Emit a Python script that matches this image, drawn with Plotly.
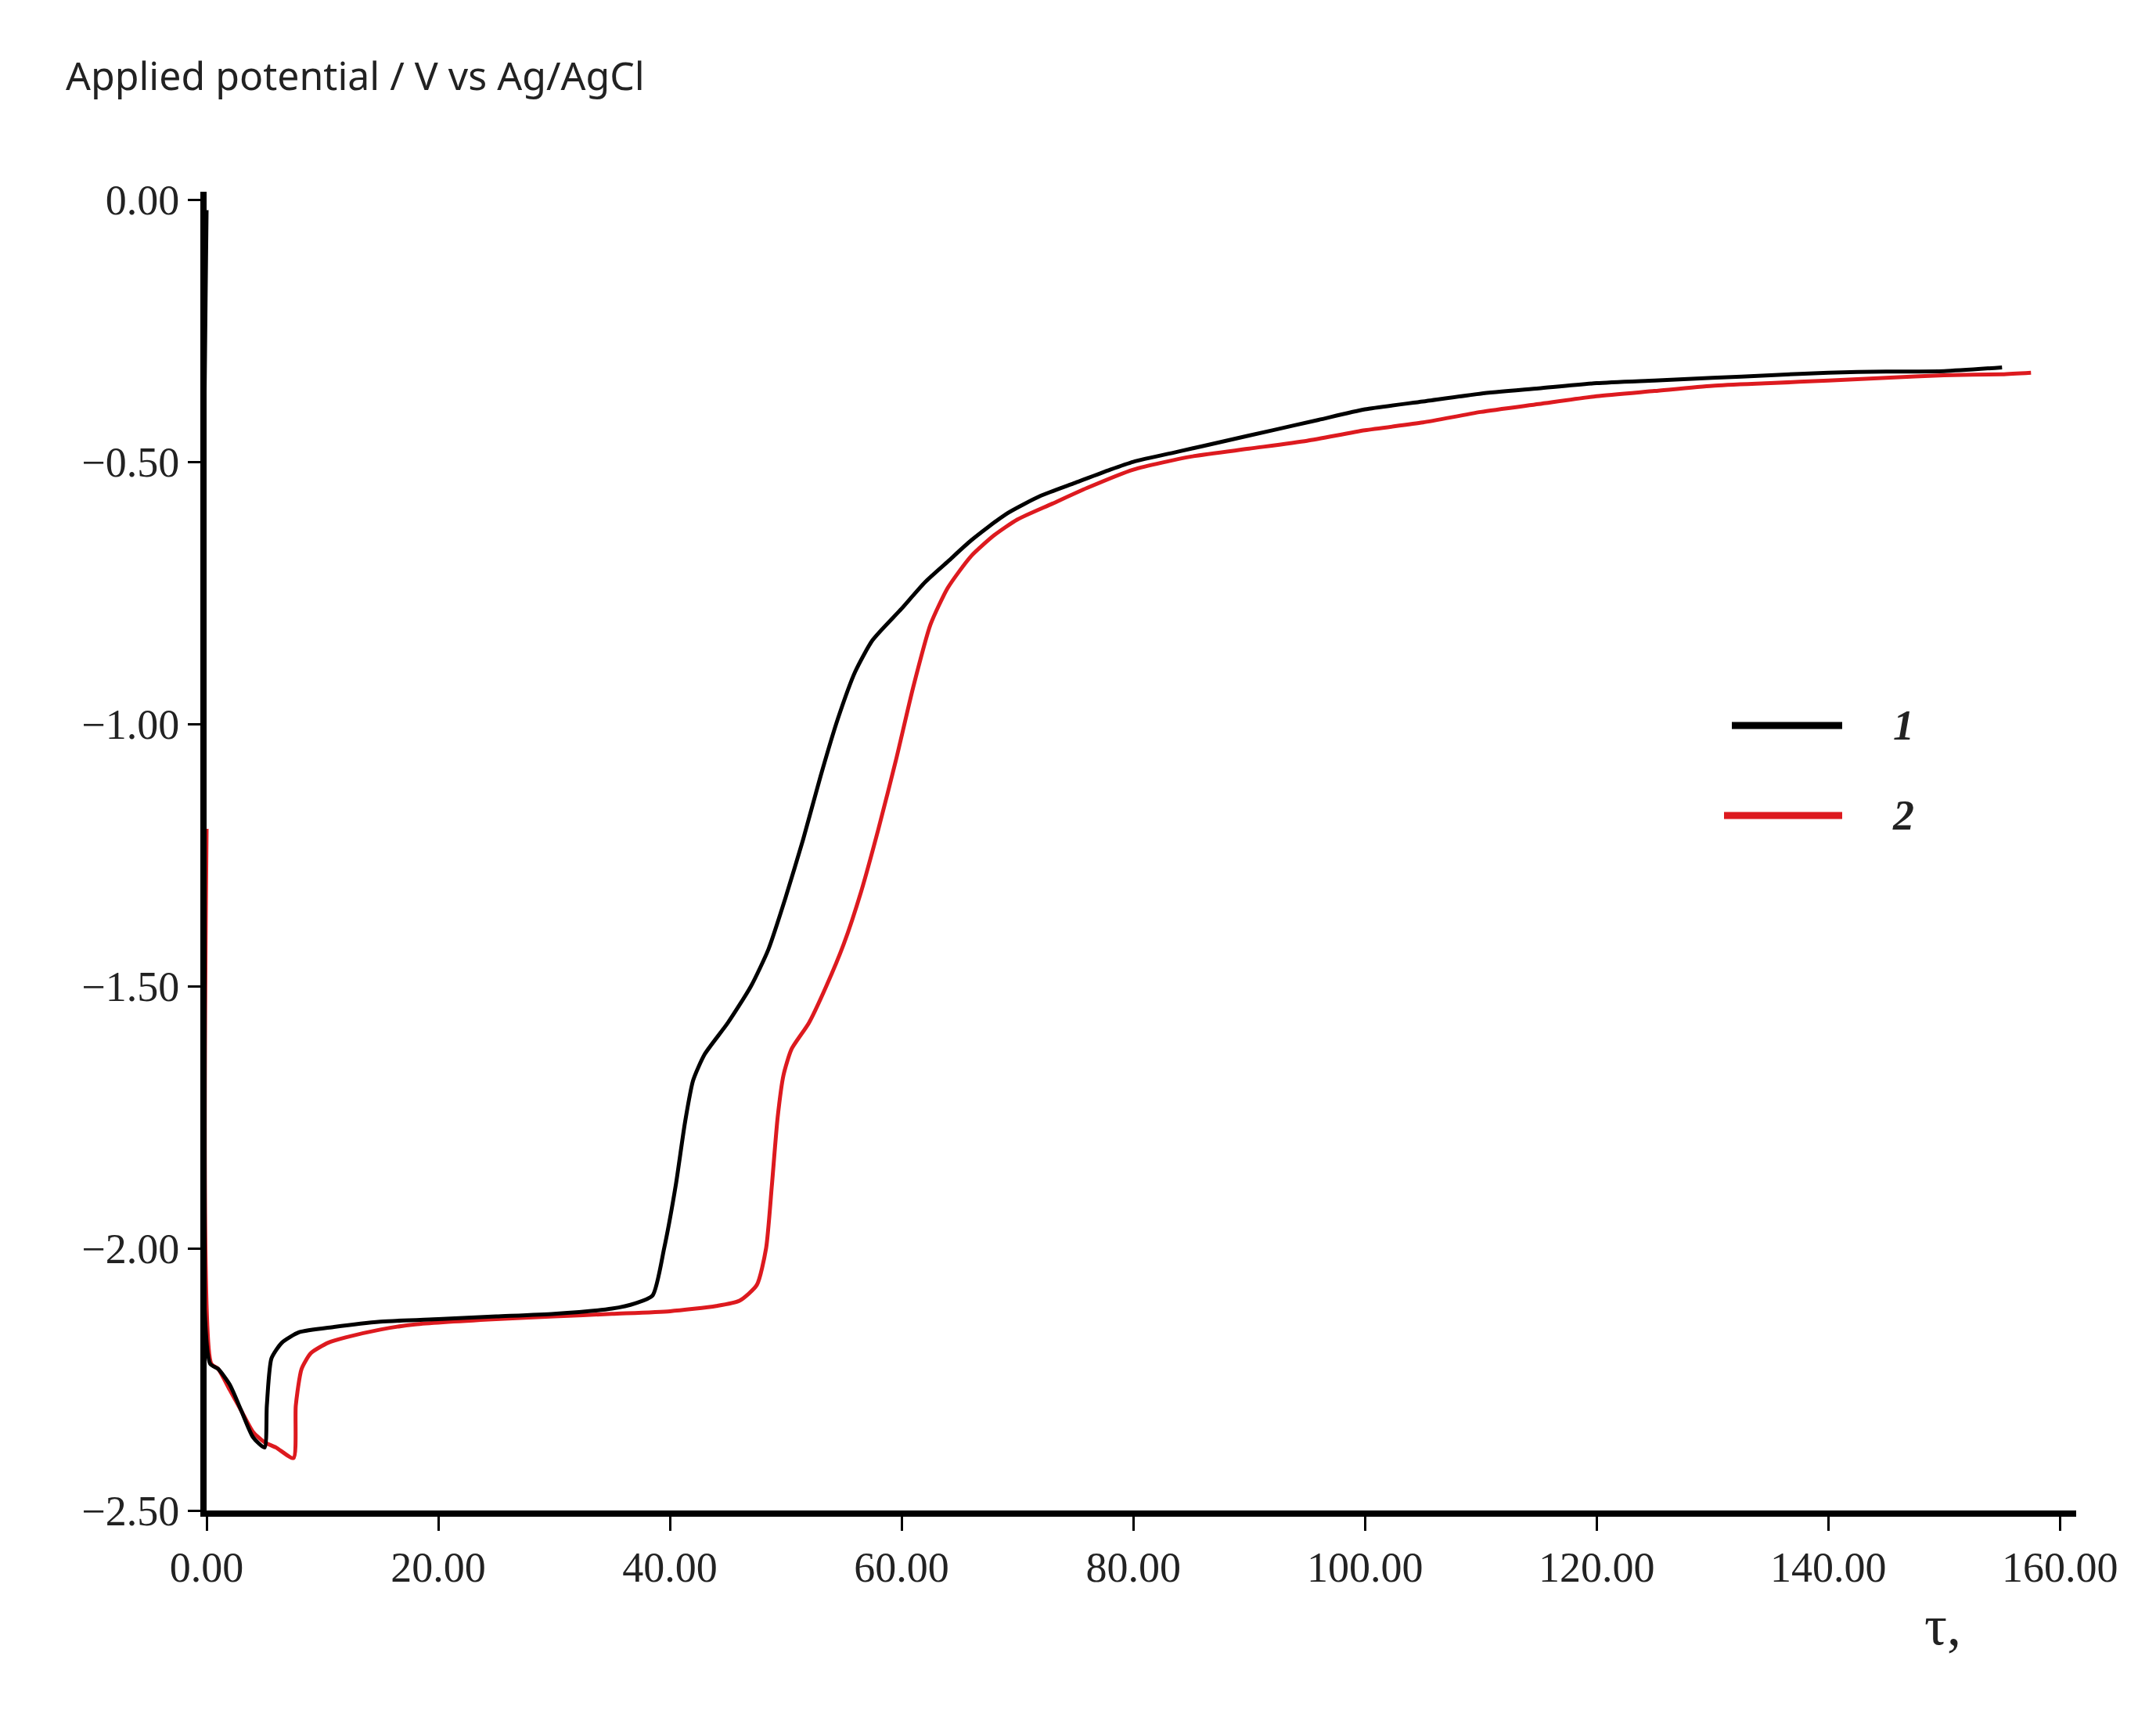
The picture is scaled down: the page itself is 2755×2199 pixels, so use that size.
import plotly.graph_objects as go

x1 = [0, 0.3, 1, 2, 3, 4, 5, 5.2, 5.6, 6.5, 8, 11, 15, 20, 25, 30, 35, 37, 38.5, 39.5, 40.5, 41.3, 42, 43, 45, 47, 48.5, 50, 51.5, 53, 54.5, 56, 57.5, 60, 62, 64, 66, 69, 72, 75, 78, 80, 84, 88, 92, 96, 100, 105, 110, 115, 120, 125, 130, 135, 140, 145, 150, 155]
y1 = [-0.02, -2.22, -2.23, -2.26, -2.31, -2.36, -2.38, -2.3, -2.21, -2.18, -2.16, -2.15, -2.14, -2.135, -2.13, -2.125, -2.115, -2.105, -2.09, -2.0, -1.88, -1.76, -1.68, -1.63, -1.57, -1.5, -1.43, -1.33, -1.22, -1.1, -0.99, -0.9, -0.84, -0.78, -0.73, -0.69, -0.65, -0.6, -0.565, -0.54, -0.515, -0.5, -0.48, -0.46, -0.44, -0.42, -0.4, -0.385, -0.37, -0.36, -0.35, -0.345, -0.34, -0.335, -0.33, -0.328, -0.327, -0.32]

x2 = [0, 0.4, 1, 2, 3, 4, 5, 6, 7.5, 7.7, 8.2, 9, 10.5, 12, 15, 18, 25, 30, 35, 40, 44, 46, 47.5, 48.3, 48.8, 49.3, 49.8, 50.5, 52, 53.5, 55, 56.5, 58, 59.5, 61, 62.5, 64, 66, 68, 70, 73, 76, 80, 85, 90, 95, 100, 105, 110, 115, 120, 125, 130, 135, 140, 145, 150, 155, 157.5]
y2 = [-1.2, -2.22, -2.23, -2.27, -2.31, -2.35, -2.37, -2.38, -2.4, -2.3, -2.23, -2.2, -2.18, -2.17, -2.155, -2.145, -2.135, -2.13, -2.125, -2.12, -2.11, -2.1, -2.07, -2.0, -1.88, -1.75, -1.67, -1.62, -1.57, -1.5, -1.42, -1.32, -1.2, -1.07, -0.93, -0.81, -0.74, -0.68, -0.64, -0.61, -0.58, -0.55, -0.515, -0.49, -0.475, -0.46, -0.44, -0.425, -0.405, -0.39, -0.375, -0.365, -0.355, -0.35, -0.345, -0.34, -0.335, -0.333, -0.33]

xticks = [0, 20, 40, 60, 80, 100, 120, 140, 160]
xlabels = ["0.00", "20.00", "40.00", "60.00", "80.00", "100.00", "120.00", "140.00", "160.00"]
yticks = [0, -0.5, -1.0, -1.5, -2.0, -2.5]
ylabels = ["0.00", "\u22120.50", "\u22121.00", "\u22121.50", "\u22122.00", "\u22122.50"]
legend_names = ["1", "2"]
colors = ["#000000", "#dd1a1f"]

fig = go.Figure()
fig.add_trace(go.Scatter(x=x2, y=y2, mode="lines", line=dict(color=colors[1], width=5, shape="spline", smoothing=0.6), showlegend=False))
fig.add_trace(go.Scatter(x=x1, y=y1, mode="lines", line=dict(color=colors[0], width=5, shape="spline", smoothing=0.6), showlegend=False))

serif = "Liberation Serif"
fig.update_layout(
    width=2755, height=2199, paper_bgcolor="white", plot_bgcolor="white",
    margin=dict(l=256, r=110, t=237, b=277),
    xaxis=dict(range=[0, 161.4], tickvals=xticks, ticktext=xlabels, showgrid=False, zeroline=False,
               showline=True, linewidth=8, linecolor="black", ticks="outside", ticklen=18, tickwidth=3,
               tickcolor="black", tickfont=dict(family=serif, size=54, color="#222")),
    yaxis=dict(range=[-2.5, 0.015], tickvals=yticks, ticktext=ylabels, showgrid=False, zeroline=False,
               showline=True, linewidth=8, linecolor="black", ticks="outside", ticklen=16, tickwidth=3,
               tickcolor="black", tickfont=dict(family=serif, size=54, color="#222")),
)
fig.add_annotation(x=74, y=88, xref="paper", yref="paper", text="Applied potential / V vs Ag/AgCl", showarrow=False,
                   xanchor="left", yanchor="middle", font=dict(family="Noto Sans", size=50, color="#222"))
fig.layout.annotations[0].update(xref="paper", yref="paper", x=(74-256)/2389, y=1-(88-237)/-1685*-1)
# legend drawn in paper coordinates
W, H = 2389, 1685
def px(xp): return (xp-256)/W
def py(yp): return (1922-yp)/H
fig.layout.annotations[0].update(x=px(74), y=py(88))
for i, (yy, x0) in enumerate([(919, 2205), (1034, 2195)]):
    fig.add_shape(type="line", xref="paper", yref="paper", x0=px(x0), x1=px(2346), y0=py(yy), y1=py(yy),
                  line=dict(color=colors[i], width=9))
    fig.add_annotation(xref="paper", yref="paper", x=px(2440), y=py(yy), text="<b><i>%s</i></b>" % legend_names[i],
                       showarrow=False, font=dict(family=serif, size=54, color="#222"))
fig.add_annotation(xref="paper", yref="paper", x=px(2500), y=py(2111), text="\u03c4,", showarrow=False,
                   font=dict(family=serif, size=72, color="#222"))
fig.write_html("out.html")
